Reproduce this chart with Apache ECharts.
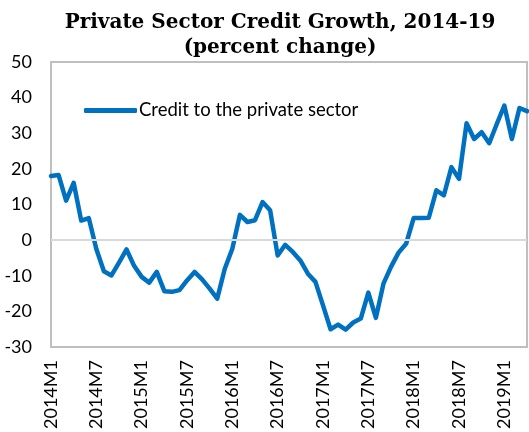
<!DOCTYPE html>
<html>
<head>
<meta charset="utf-8">
<script src="https://cdn.jsdelivr.net/npm/echarts@6/dist/echarts.min.js"></script>
<style>
  html, body { margin: 0; padding: 0; background: #fff; }
  #chart { width: 529px; height: 432px; }
</style>
</head>
<body>
<div id="chart"></div>
<script>
// Monthly periods, 2014M1 – 2019M4
const months = [
  '2014M1','2014M2','2014M3','2014M4','2014M5','2014M6','2014M7','2014M8','2014M9','2014M10','2014M11','2014M12',
  '2015M1','2015M2','2015M3','2015M4','2015M5','2015M6','2015M7','2015M8','2015M9','2015M10','2015M11','2015M12',
  '2016M1','2016M2','2016M3','2016M4','2016M5','2016M6','2016M7','2016M8','2016M9','2016M10','2016M11','2016M12',
  '2017M1','2017M2','2017M3','2017M4','2017M5','2017M6','2017M7','2017M8','2017M9','2017M10','2017M11','2017M12',
  '2018M1','2018M2','2018M3','2018M4','2018M5','2018M6','2018M7','2018M8','2018M9','2018M10','2018M11','2018M12',
  '2019M1','2019M2','2019M3','2019M4'
];

// Year-on-year growth of credit to the private sector (percent)
const creditGrowth = [
  18.0, 18.3, 11.1, 16.1, 5.5, 6.2, -2.5, -8.7, -9.9, -6.3, -2.6, -7.2,
  -10.3, -11.9, -8.9, -14.3, -14.5, -14.0, -11.3, -8.9, -11.0, -13.6, -16.4, -8.0,
  -2.4, 7.1, 5.1, 5.6, 10.7, 8.4, -4.3, -1.3, -3.3, -5.7, -9.4, -11.7,
  -18.3, -25.0, -23.7, -25.1, -23.1, -22.0, -14.7, -21.8, -12.2, -7.5, -3.5, -1.0,
  6.2, 6.2, 6.3, 14.0, 12.6, 20.5, 17.2, 32.8, 28.4, 30.3, 27.2, 32.6,
  37.8, 28.4, 37.1, 36.2
];

const yTicks = { min: -30, max: 50, step: 10 };
const seriesName = 'Credit to the private sector';
const titleLines = ['Private Sector Credit Growth, 2014-19', '(percent change)'];

const chart = echarts.init(document.getElementById('chart'), null, { renderer: 'canvas' });

const labelFont = 'Lato, "Open Sans", sans-serif';
const titleFont = '"DejaVu Serif", "Liberation Serif", serif';

chart.setOption({
  animation: false,
  backgroundColor: '#ffffff',
  title: {
    text: titleLines.join('\n'),
    left: 275, top: 5, textAlign: 'center',
    textStyle: { fontFamily: titleFont, fontWeight: 'bold', fontSize: 20, lineHeight: 25, color: '#000' }
  },
  legend: {
    left: 84, top: 101, padding: 0,
    itemWidth: 53, itemHeight: 5,
    icon: 'roundRect',
    data: [seriesName],
    textStyle: { fontFamily: labelFont, fontSize: 18.5, color: '#000', padding: [0, 0, 0, -3] }
  },
  grid: {
    left: 51, right: 2, top: 62, bottom: 84,
    show: true, borderColor: '#bfbfbf', borderWidth: 2, backgroundColor: 'transparent'
  },
  xAxis: {
    type: 'category',
    data: months,
    boundaryGap: false,
    axisLine: { show: false },
    axisTick: { show: false },
    splitLine: { show: false },
    axisLabel: {
      interval: 5,
      rotate: 90,
      margin: 13,
      fontFamily: labelFont, fontSize: 18, color: '#000'
    }
  },
  yAxis: {
    type: 'value',
    min: yTicks.min, max: yTicks.max, interval: yTicks.step,
    axisLine: { show: false },
    axisTick: { show: false },
    splitLine: { show: false },
    axisLabel: { margin: 19, fontFamily: labelFont, fontSize: 18, color: '#000' }
  },
  series: [{
    name: seriesName,
    type: 'line',
    data: creditGrowth,
    showSymbol: false,
    symbol: 'none',
    lineStyle: { color: '#0070c0', width: 4.5, cap: 'round', join: 'round' },
    itemStyle: { color: '#0070c0' },
    markLine: {
      silent: true,
      symbol: 'none',
      label: { show: false },
      lineStyle: { color: '#d9d9d9', width: 2, type: 'solid' },
      data: [{ yAxis: 0 }]
    },
    z: 3
  }]
});
</script>
</body>
</html>
